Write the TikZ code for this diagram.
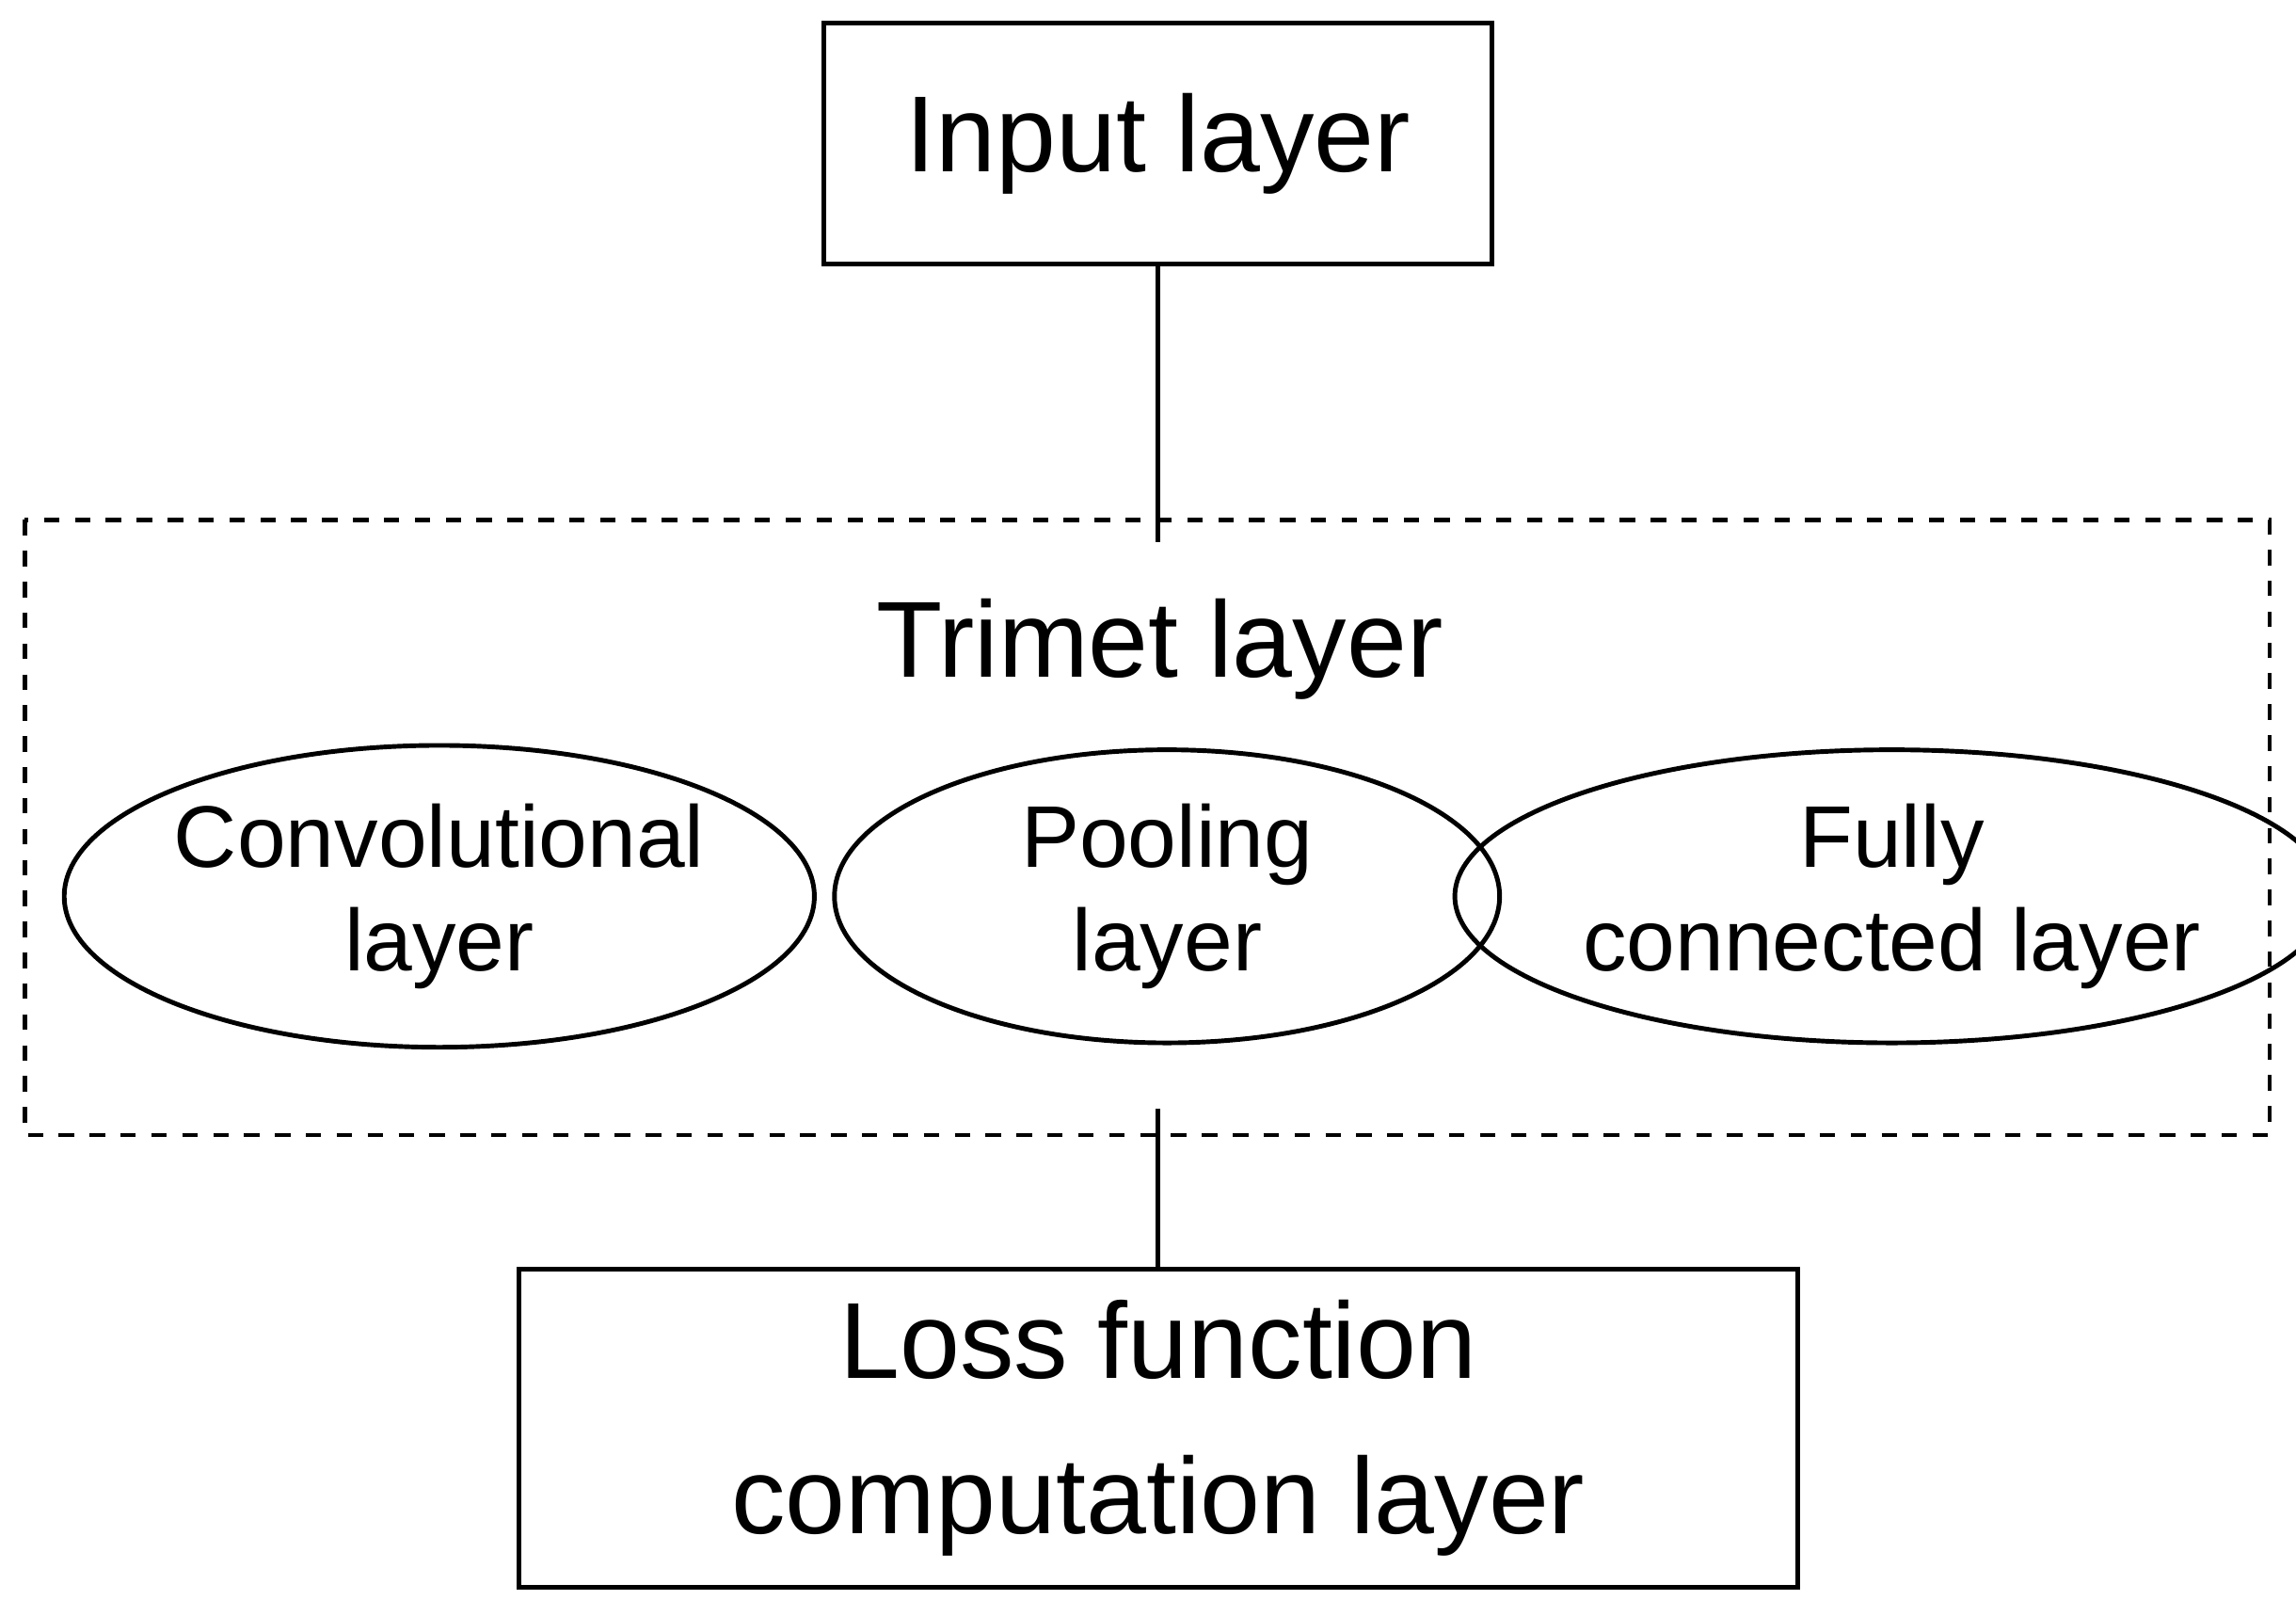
\documentclass[tikz,border=0pt]{standalone}
\usepackage{fontspec}
\setmainfont{Liberation Sans}
\usetikzlibrary{shapes.geometric}
\begin{document}
\begin{tikzpicture}[x=0.01cm,y=-0.01cm,line width=0.9pt,
  box/.style={draw,rectangle,font=\fontsize{21}{25}\selectfont,align=center,inner sep=0pt},
  oval/.style={draw,ellipse,font=\fontsize{17}{20}\selectfont,align=center,inner sep=0pt,minimum width=4.6cm,minimum height=2cm}]
\useasboundingbox (0,0) rectangle (1568,1103);
% blocks
\node[box,minimum width=4.56cm,minimum height=1.65cm] (input) at (791,98) {Input layer};
\draw[dashed] (17,355) rectangle (1550,775);
\node[font=\fontsize{21}{25}\selectfont] (trimet) at (792,443) {Trimet layer};
\node[oval,minimum width=4.64cm,minimum height=2.06cm] (conv) at (300,612) {Convolutional\\layer};
\node[oval,minimum width=4.54cm] (pool) at (797,612) {Pooling\\layer};
\node[oval,minimum width=4.56cm] (full) at (1292,612) {Fully\\connected layer};
\node[box,minimum width=8.73cm,minimum height=2.17cm,font=\fontsize{21}{30}\selectfont] (loss) at (791,975) {Loss function\\computation layer};
% connectors
\coordinate (top) at (791,370);
\coordinate (bot) at (791,757);
\draw (input) -- (top);
\draw (bot) -- (loss);
\end{tikzpicture}
\end{document}
